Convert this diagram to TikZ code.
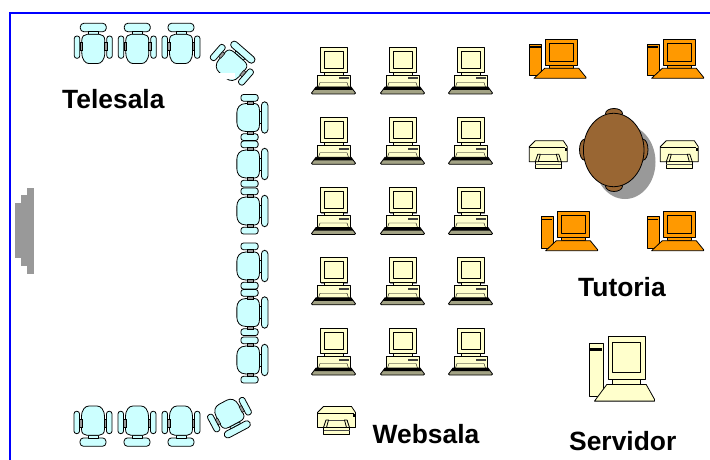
\documentclass[tikz,border=0pt]{standalone}
\usepackage{fontspec}
\setmainfont{Liberation Sans}
\usepackage{xcolor}
\definecolor{chairblue}{HTML}{CCFFFF}
\definecolor{palepc}{HTML}{FFFFCC}
\definecolor{orangepc}{HTML}{FF9900}
\definecolor{tablebrown}{HTML}{996633}
\definecolor{stagegray}{HTML}{999999}
\definecolor{keyolive}{HTML}{A3A385}
\tikzset{
    outline/.style={draw=black, line width=0.8pt, line join=round},
    label text/.style={font=\fontsize{26.4}{30}\selectfont\bfseries, anchor=base west, inner sep=0pt},
    column chair/.style={rotate=-90, xscale=1.21, yscale=0.77},
    pics/chair/.style={code={
        \path[outline, fill=chairblue, rounded corners=3.5pt] (-13,-20) rectangle (13,-11.6);
        \path[outline, fill=chairblue] (-5,-11.6) rectangle (5,-9);
        \path[outline, fill=chairblue] (-11.5,-3) .. controls (-11.5,-7) and (-9,-9) .. (-6,-9) -- (6,-9)
            .. controls (9,-9) and (11.5,-7) .. (11.5,-3) -- (11.5,9) .. controls (11.5,16.5) and (8,20.3) .. (4,20.3)
            -- (-4,20.3) .. controls (-8,20.3) and (-11.5,16.5) .. (-11.5,9) -- cycle;
        \path[outline, fill=chairblue, rounded corners=2.5pt] (-19,-7.3) rectangle (-13.5,15);
        \path[outline, fill=chairblue, rounded corners=2.5pt] (13.5,-7.3) rectangle (19,15);
        \path[draw=black, fill=stagegray, line width=0.5pt] (-13.5,-0.6) rectangle (-11,6.7);
        \path[draw=black, fill=stagegray, line width=0.5pt] (11,-0.6) rectangle (13.5,6.7);
    }},
    pics/websalapc/.style={code={
        \fill[stagegray] (-12.5,1) rectangle (14.5,26);
        \path[outline, fill=palepc] (-13.5,0) rectangle (13.5,25);
        \path[outline, fill=palepc] (-9.5,4) rectangle (9.5,21);
        \path[outline, fill=palepc] (-9.5,25) rectangle (9.5,28);
        \path[outline, fill=palepc] (-16.5,28) rectangle (16.5,40.5);
        \fill[black!75] (5,30.5) rectangle (15,32.5);
        \path[draw=black, line width=0.4pt] (-15,40) -- (-13.5,35.5) -- (13.5,35.5) -- (15,40);
        \path[outline, fill=keyolive] (-17.5,40) -- (17.5,40) -- (22,46) -- (21,47) -- (-21,47) -- (-22,46) -- cycle;
        \fill[black] (-17.5,40) -- (17.5,40) -- (19.5,43) -- (-19.5,43) -- cycle;
    }},
    pics/towerpc/.style={code={
        \path[outline, fill=#1] (-32.4,4.7) rectangle (-20,36.4);
        \fill[black] (-31.4,7.2) rectangle (-21,8.7);
        \path[outline, fill=#1] (-16,0) rectangle (16,25.7);
        \path[outline, fill=#1] (-12,4) rectangle (12,21.7);
        \path[outline, fill=#1] (-12,25.7) rectangle (12,29);
        \path[outline, fill=#1] (-17,29) -- (17,29) -- (24.3,38) -- (24.3,39) -- (-27.7,39) -- cycle;
    }},
    pics/printer/.style={code={
        \path[outline, fill=palepc] (0,6) -- (6,0) -- (34,0) -- (38,6) -- (38,21) -- (0,21) -- cycle;
        \fill[black] (0,6) rectangle (36,7.5);
        \fill[black] (35.5,7) rectangle (37.5,10);
        \path[draw=black!70, line width=0.5pt] (8,13.5) -- (30,13.5);
        \path[outline, fill=palepc] (6,21) rectangle (32,28);
        \path[draw=black!70, line width=0.5pt] (6,24) -- (32,24);
        \path[outline, fill=palepc] (6,21) -- (8.5,13.5) -- (11,13.5) -- (9,21) -- cycle;
        \path[outline, fill=palepc] (32,21) -- (29.5,13.5) -- (27,13.5) -- (29,21) -- cycle;
    }},
}
\begin{document}
\begin{tikzpicture}[x=1pt,y=-1pt]
    \useasboundingbox (0,0) rectangle (710,460);
    \fill[white] (0,0) rectangle (710,460);
    \draw[blue, line width=1.6pt] (10,460) -- (10,13) -- (710,13);
    \fill[stagegray] (27,188) rectangle (34,274);
    \fill[stagegray] (21,195) rectangle (34,266);
    \fill[stagegray] (15,203) rectangle (34,258);
    \pic at (93.3,43.3) {chair};
    \pic at (137.3,43.3) {chair};
    \pic at (181,43.3) {chair};
    \pic[rotate=-41, xscale=1.15, yscale=0.85] at (234,62.3) {chair};
    \fill[white] (219,73) rectangle (235,79);
    \pic[column chair] at (252.5,117.5) {chair};
    \pic[column chair] at (252.5,164) {chair};
    \pic[column chair] at (252.5,211) {chair};
    \pic[column chair] at (252.5,266) {chair};
    \pic[column chair] at (252.5,312.5) {chair};
    \pic[column chair] at (252.5,360) {chair};
    \pic[rotate=180] at (93,426.3) {chair};
    \pic[rotate=180] at (137,426.3) {chair};
    \pic[rotate=180] at (181,426.3) {chair};
    \pic[rotate=-152, xscale=1.1, yscale=0.85] at (231,417.5) {chair};
    \pic at (333.5,47) {websalapc};
    \pic at (402.5,47) {websalapc};
    \pic at (470.5,47) {websalapc};
    \pic at (333.5,117.25) {websalapc};
    \pic at (402.5,117.25) {websalapc};
    \pic at (470.5,117.25) {websalapc};
    \pic at (333.5,187.5) {websalapc};
    \pic at (402.5,187.5) {websalapc};
    \pic at (470.5,187.5) {websalapc};
    \pic at (333.5,257.75) {websalapc};
    \pic at (402.5,257.75) {websalapc};
    \pic at (470.5,257.75) {websalapc};
    \pic at (333.5,328) {websalapc};
    \pic at (402.5,328) {websalapc};
    \pic at (470.5,328) {websalapc};
    \pic at (561.7,39.3) {towerpc=orangepc};
    \pic at (679.3,39.3) {towerpc=orangepc};
    \pic at (573.3,211.7) {towerpc=orangepc};
    \pic at (679.3,211.7) {towerpc=orangepc};
    \pic[xscale=1.156, yscale=1.67] at (626.5,336) {towerpc=palepc};
    \pic at (529.3,140.7) {printer};
    \pic at (660.3,140.7) {printer};
    \pic at (317.5,406.5) {printer};
    \fill[stagegray] (625,162) ellipse [x radius=30.5pt, y radius=37pt];
    \path[outline, fill=tablebrown] (614,113.5) ellipse [x radius=8.5pt, y radius=5pt];
    \path[outline, fill=tablebrown] (614,186) ellipse [x radius=8.5pt, y radius=5.5pt];
    \path[outline, fill=tablebrown] (584.5,149.7) ellipse [x radius=5pt, y radius=10.5pt];
    \path[outline, fill=tablebrown] (643,149.7) ellipse [x radius=5pt, y radius=10.5pt];
    \path[outline, fill=tablebrown] (613.7,150) ellipse [x radius=30.3pt, y radius=36.7pt];
    \node[label text] (telesala) at (62,108) {Telesala};
    \node[label text] (tutoria) at (578,296) {Tutoria};
    \node[label text] (websala) at (372.5,443) {Websala};
    \node[label text] (servidor) at (569,450) {Servidor};
\end{tikzpicture}
\end{document}
